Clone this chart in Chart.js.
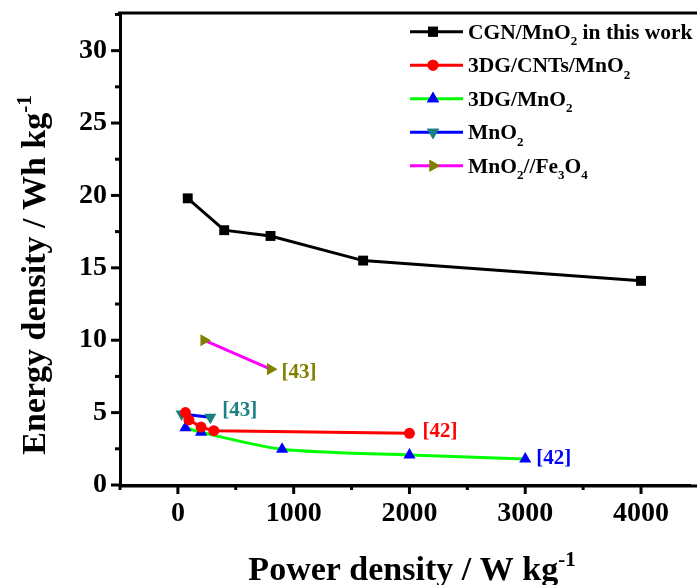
<!DOCTYPE html>
<html>
<head>
<meta charset="utf-8">
<script src="https://cdn.jsdelivr.net/npm/chart.js@4/dist/chart.umd.min.js"></script>
<style>
  html, body { margin: 0; padding: 0; background: #fff; }
  #wrap { width: 697px; height: 585px; position: relative; }
</style>
</head>
<body>
<div id="wrap"><canvas id="chart"></canvas></div>
<script>
// Power density (W/kg) and energy density (Wh/kg)
const cgnPower = [85, 400, 800, 1600, 4000];
const cgnEnergy = [19.8, 17.6, 17.2, 15.5, 14.1];

const cntPower = [65, 95, 200, 310, 2000];
const cntEnergy = [5.0, 4.5, 4.0, 3.75, 3.57];

const dgPower = [65, 200, 900, 2000, 3000];
const dgEnergy = [3.96, 3.64, 2.47, 2.07, 1.8];

const mnoPower = [32, 280];
const mnoEnergy = [4.9, 4.68];

const feoPower = [225, 800];
const feoEnergy = [10.0, 8.0];

const seriesLabels = [
    'CGN/MnO_{2} in this work',
    '3DG/CNTs/MnO_{2}',
    '3DG/MnO_{2}',
    'MnO_{2}',
    'MnO_{2}//Fe_{3}O_{4}'
];

// reference tags next to the last point of a series
const refTags = [
    { series: 1, text: '[42]' },
    { series: 2, text: '[42]' },
    { series: 3, text: '[43]' },
    { series: 4, text: '[43]' }
];

const xTicksMajor = [0, 1000, 2000, 3000, 4000];
const yTicksMajor = [0, 5, 10, 15, 20, 25, 30];

const SERIF = "'Liberation Serif', 'Times New Roman', serif";

function toPoints(xs, ys) {
    return xs.map((x, i) => ({ x: x, y: ys[i] }));
}

// draw text with _{sub} and ^{sup} parts
function richText(ctx, str, x, y, size, color, measureOnly) {
    const parts = [];
    const re = /([_^])\{([^}]*)\}/g;
    let last = 0, m;
    while ((m = re.exec(str)) !== null) {
        if (m.index > last) parts.push({ t: str.slice(last, m.index), k: '' });
        parts.push({ t: m[2], k: m[1] });
        last = re.lastIndex;
    }
    if (last < str.length) parts.push({ t: str.slice(last), k: '' });
    let cx = x;
    ctx.fillStyle = color;
    ctx.textBaseline = 'alphabetic';
    ctx.textAlign = 'left';
    parts.forEach(p => {
        const fs = p.k ? Math.round(size * 0.62) : size;
        ctx.font = 'bold ' + fs + 'px ' + SERIF;
        let dy = 0;
        if (p.k === '_') dy = size * 0.3;
        if (p.k === '^') dy = -size * 0.42;
        if (!measureOnly) ctx.fillText(p.t, cx, y + dy);
        cx += ctx.measureText(p.t).width;
    });
    return cx - x;
}

const styles = [
    { line: '#000000', mark: '#000000', shape: 'rect', r: 7, rot: 0 },
    { line: '#ff0000', mark: '#ff0000', shape: 'circle', r: 5.5, rot: 0 },
    { line: '#00ff00', mark: '#0000ff', shape: 'triangle', r: 7, rot: 0 },
    { line: '#0000ff', mark: '#1a8080', shape: 'triangle', r: 7, rot: 180 },
    { line: '#ff00ff', mark: '#808000', shape: 'triangle', r: 7, rot: 90 }
];
const tagColors = ['#000000', '#ff0000', '#0000ff', '#1a8080', '#808000'];
const tagOffsets = { 1: [13, 4], 2: [11, 5], 3: [12, -1], 4: [11, 9] };

const pointSets = [
    toPoints(cgnPower, cgnEnergy),
    toPoints(cntPower, cntEnergy),
    toPoints(dgPower, dgEnergy),
    toPoints(mnoPower, mnoEnergy),
    toPoints(feoPower, feoEnergy)
];

const datasets = pointSets.map((pts, i) => ({
    label: seriesLabels[i],
    data: pts,
    showLine: true,
    borderColor: styles[i].line,
    borderWidth: 3,
    backgroundColor: styles[i].mark,
    pointBackgroundColor: styles[i].mark,
    pointBorderColor: styles[i].mark,
    pointBorderWidth: 0,
    pointStyle: styles[i].shape,
    pointRadius: styles[i].r,
    pointRotation: styles[i].rot,
    tension: i === 2 ? 0.25 : 0,
    clip: false
}));

const framePlugin = {
    id: 'frame',
    afterDraw(chart) {
        const ctx = chart.ctx;
        const area = chart.chartArea;
        const xs = chart.scales.x, ys = chart.scales.y;
        ctx.save();
        ctx.strokeStyle = '#000';
        ctx.lineWidth = 3;
        // top frame, and bottom axis carried to the edge
        ctx.beginPath();
        ctx.moveTo(area.left - 2, area.top);
        ctx.lineTo(chart.width, area.top);
        ctx.moveTo(area.left, area.bottom + 1);
        ctx.lineTo(chart.width, area.bottom + 1);
        ctx.stroke();
        // x ticks
        for (let v = -500; v <= xs.max; v += 500) {
            const px = xs.getPixelForValue(v);
            const len = v % 1000 === 0 ? 9 : 5;
            ctx.beginPath();
            ctx.moveTo(px, area.bottom);
            ctx.lineTo(px, area.bottom + len);
            ctx.stroke();
        }
        // y ticks
        for (let v = 0; v <= ys.max; v += 2.5) {
            const py = ys.getPixelForValue(v);
            const len = v % 5 === 0 ? 9 : 5;
            ctx.beginPath();
            ctx.moveTo(area.left, py);
            ctx.lineTo(area.left - len, py);
            ctx.stroke();
        }

        // legend
        const lx = 410, ly = 31.7, step = 33.5;
        chart.data.datasets.forEach((ds, i) => {
            const y = ly + i * step;
            ctx.strokeStyle = ds.borderColor;
            ctx.lineWidth = 3;
            ctx.beginPath();
            ctx.moveTo(lx, y);
            ctx.lineTo(lx + 53, y);
            ctx.stroke();
            ctx.fillStyle = ds.pointBackgroundColor;
            Chart.helpers.drawPoint(ctx, {
                pointStyle: ds.pointStyle,
                radius: ds.pointRadius,
                rotation: ds.pointRotation,
                borderWidth: 0
            }, lx + 23, y);
            ctx.fill();
            richText(ctx, ds.label, lx + 58, y + 7, 21.5, '#000');
        });

        // reference tags
        refTags.forEach(tag => {
            const pts = chart.data.datasets[tag.series].data;
            const p = pts[pts.length - 1];
            const off = tagOffsets[tag.series];
            const px = xs.getPixelForValue(p.x) + off[0];
            const py = ys.getPixelForValue(p.y) + off[1];
            richText(ctx, tag.text, px, py, 21, tagColors[tag.series]);
        });

        // axis titles
        const xt = 'Power density / W kg^{-1}';
        const w = richText(ctx, xt, 0, 0, 34, '#000', true);
        richText(ctx, xt, 412 - w / 2, 580, 34, '#000');

        const yt = 'Energy density / Wh kg^{-1}';
        const wy = richText(ctx, yt, 0, 0, 34, '#000', true);
        ctx.translate(45, 275);
        ctx.rotate(-Math.PI / 2);
        richText(ctx, yt, -wy / 2, 0, 34, '#000');
        ctx.restore();
    }
};

new Chart(document.getElementById('chart'), {
    type: 'scatter',
    data: { datasets: datasets },
    options: {
        responsive: true,
        maintainAspectRatio: false,
        animation: false,
        layout: { padding: { top: 13, right: 0, left: 0, bottom: 0 } },
        plugins: {
            legend: { display: false },
            tooltip: { enabled: false }
        },
        scales: {
            x: {
                type: 'linear',
                min: -500,
                max: 4423,
                afterFit(scale) {
                    scale.height = 100;
                    scale.paddingLeft = 0;
                    scale.paddingRight = 0;
                },
                afterBuildTicks(scale) {
                    scale.ticks = xTicksMajor.map(v => ({ value: v }));
                },
                ticks: {
                    color: '#000',
                    padding: 12,
                    maxRotation: 0,
                    callback: v => String(v),
                    font: { family: SERIF, size: 28, weight: 'bold' }
                },
                grid: { display: false, drawTicks: false },
                border: { display: true, color: '#000', width: 3 }
            },
            y: {
                type: 'linear',
                min: 0,
                max: 32.6,
                afterFit(scale) {
                    scale.width = 120;
                    scale.paddingTop = 0;
                    scale.paddingBottom = 0;
                },
                afterBuildTicks(scale) {
                    scale.ticks = yTicksMajor.map(v => ({ value: v }));
                },
                ticks: {
                    color: '#000',
                    padding: 13,
                    callback: v => String(v),
                    font: { family: SERIF, size: 28, weight: 'bold' }
                },
                grid: { display: false, drawTicks: false },
                border: { display: true, color: '#000', width: 3 }
            }
        }
    },
    plugins: [framePlugin]
});
</script>
</body>
</html>
